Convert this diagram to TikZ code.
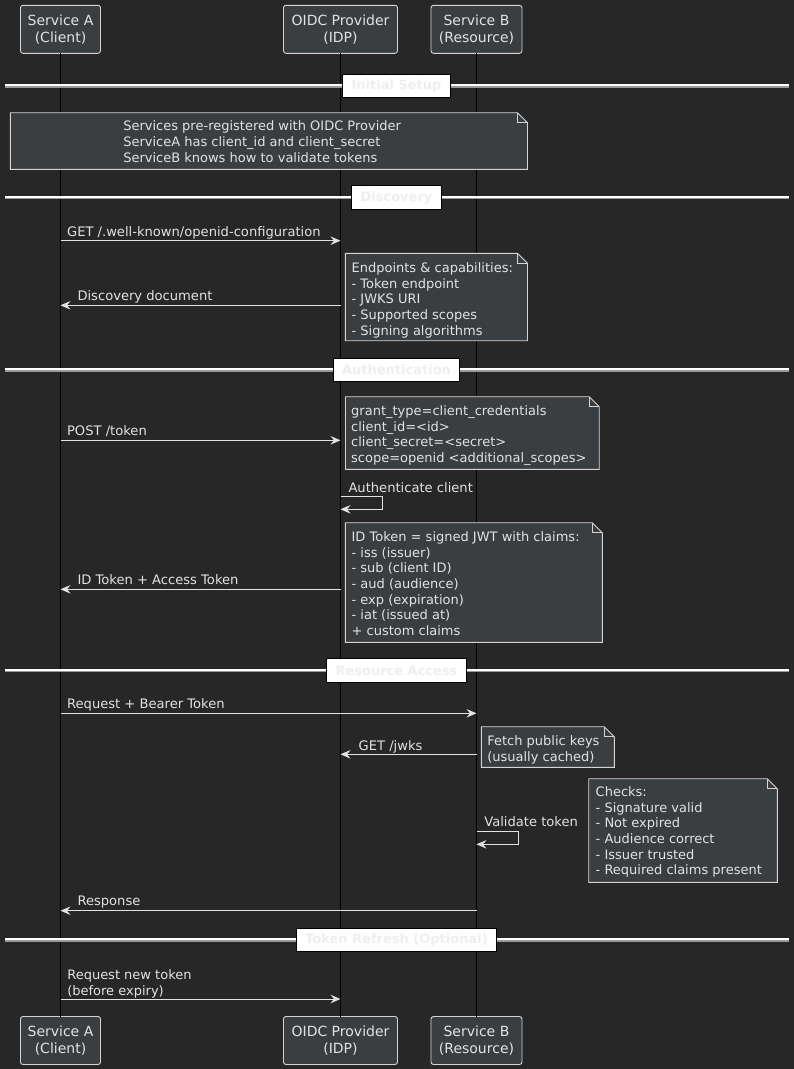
\documentclass[tikz,border=0pt]{standalone}
\usepackage{fontspec}
\setmainfont{DejaVu Sans}
\usetikzlibrary{arrows.meta}

\definecolor{bg}{HTML}{272727}
\definecolor{boxfill}{HTML}{3B3E41}
\definecolor{ink}{HTML}{E2E2E2}
\definecolor{edge}{HTML}{D4D4D4}
\definecolor{dividertext}{HTML}{EEEEEE}
\definecolor{divshade}{HTML}{9A9A9A}

\tikzset{
  every node/.style={inner sep=0pt, outer sep=0pt},
  actor/.style={draw=edge, fill=boxfill, rounded corners=2.5pt, minimum height=48pt,
    text=ink, align=center, font=\fontsize{14}{17}\selectfont, line width=0.9pt},
  lifeline/.style={draw=black, line width=1pt},
  msg/.style={draw=ink, line width=1pt, -{Stealth[length=10pt,width=8.5pt,inset=3.5pt]}},
  lbl/.style={anchor=base west, text=ink, font=\fontsize{13.1}{15.7}\selectfont},
  notebody/.style={draw=edge, fill=boxfill, line width=0.9pt, line join=miter},
  notetext/.style={anchor=north west, align=left, text=ink, font=\fontsize{13}{15.7}\selectfont},
  divline/.style={draw=white, line width=2.2pt},
  divunder/.style={draw=divshade, line width=1.2pt},
  divbox/.style={draw=black, fill=white, line width=1pt, minimum height=23.5pt, inner xsep=9pt,
    text=dividertext, font=\fontsize{13}{15}\selectfont\bfseries},
}

% note outline with a folded top-right corner: x1, y1, x2, y2
\newcommand\foldnote[4]{%
  \draw[notebody] (#1,#2) -- ({#3-10},#2) -- (#3,{#2+10}) -- (#3,#4) -- (#1,#4) -- cycle;
  \draw[notebody, fill=none] ({#3-10},#2) -- ({#3-10},{#2+10}) -- (#3,{#2+10});
}
% section separator across the page: y, name, caption
\newcommand\separator[3]{%
  \draw[divline] (5,{#1-0.8}) -- (789,{#1-0.8});
  \draw[divunder] (5,{#1+0.9}) -- (789,{#1+0.9});
  \node[divbox] (#2) at (396.5,#1) {#3};
}

\begin{document}
\begin{tikzpicture}[x=1pt, y=-1pt]
  \fill[bg] (0,0) rectangle (794,1069);
  \useasboundingbox (0,0) rectangle (794,1069);

  % participants, top and bottom
  \node[actor, minimum width=80pt]  (A)  at (60.5,29.3)  {Service A\\(Client)};
  \node[actor, minimum width=114pt] (P)  at (340.5,29.3) {OIDC Provider\\(IDP)};
  \node[actor, minimum width=91pt]  (B)  at (476.5,29.3) {Service B\\(Resource)};
  \node[actor, minimum width=80pt]  (A2) at (60.5,1040.5)  {Service A\\(Client)};
  \node[actor, minimum width=114pt] (P2) at (340.5,1040.5) {OIDC Provider\\(IDP)};
  \node[actor, minimum width=91pt]  (B2) at (476.5,1040.5) {Service B\\(Resource)};

  % lifelines
  \draw[lifeline] (A.south) -- (A2.north);
  \draw[lifeline] (P.south) -- (P2.north);
  \draw[lifeline] (B.south) -- (B2.north);

  % Initial Setup
  \separator{86}{secSetup}{Initial Setup}
  \foldnote{10.3}{112.7}{527.5}{169.3}
  \node[notetext] (noteSetup) at (123.3,119.7)
    {\strut Services pre-registered with OIDC Provider\\ServiceA has client\_id and client\_secret\\ServiceB knows how to validate tokens};

  % Discovery
  \separator{197.5}{secDiscovery}{Discovery}
  \draw[msg] (A |- 0,240.7) -- (P |- 0,240.7);
  \node[lbl] (mGet) at (67.1,236.7) {GET /.well-known/openid-configuration};
  \foldnote{345.4}{253.3}{527.5}{340.7}
  \node[notetext] (noteDisc) at (351.6,261.4)
    {\strut Endpoints \& capabilities:\\- Token endpoint\\- JWKS URI\\- Supported scopes\\- Signing algorithms};
  \draw[msg] (P |- 0,305.3) -- (A |- 0,305.3);
  \node[lbl] (mDisc) at (77.5,300.7) {Discovery document};

  % Authentication
  \separator{370}{secAuth}{Authentication}
  \foldnote{345.5}{396.7}{599.2}{469.3}
  \node[notetext] (noteToken) at (351.2,404.4)
    {\strut grant\_type=client\_credentials\\client\_id=<id>\\client\_secret=<secret>\\scope=openid <additional\_scopes>};
  \draw[msg] (A |- 0,440.3) -- (P |- 0,440.3);
  \node[lbl] (mPost) at (67.1,435.7) {POST /token};
  \node[lbl] (mAuth) at (348.5,492.4) {Authenticate client};
  \draw[msg] (P |- 0,496.7) -- (382.3,496.7) -- (382.3,509.3) -- (P |- 0,509.3);
  \foldnote{345.3}{522.7}{602.3}{642.3}
  \node[notetext] (noteJwt) at (351.6,530.4)
    {\strut ID Token = signed JWT with claims:\\- iss (issuer)\\- sub (client ID)\\- aud (audience)\\- exp (expiration)\\- iat (issued at)\\+ custom claims};
  \draw[msg] (P |- 0,589.3) -- (A |- 0,589.3);
  \node[lbl] (mIdTok) at (77.5,584.7) {ID Token + Access Token};

  % Resource Access
  \separator{670.5}{secRes}{Resource Access}
  \draw[msg] (A |- 0,713.3) -- (B |- 0,713.3);
  \node[lbl] (mReq) at (67.1,708.7) {Request + Bearer Token};
  \draw[msg] (B |- 0,754.3) -- (P |- 0,754.3);
  \node[lbl] (mJwks) at (358.7,750.4) {GET /jwks};
  \foldnote{481.3}{726.7}{614.3}{767.3}
  \node[notetext] (noteKeys) at (487.3,734.4)
    {\strut Fetch public keys\\(usually cached)};
  \foldnote{588.7}{778.7}{777.3}{882.3}
  \node[notetext] (noteChecks) at (595.7,785.4)
    {\strut Checks:\\- Signature valid\\- Not expired\\- Audience correct\\- Issuer trusted\\- Required claims present};
  \node[lbl] (mVal) at (484.3,826.4) {Validate token};
  \draw[msg] (B |- 0,831.7) -- (518.3,831.7) -- (518.3,844.3) -- (B |- 0,844.3);
  \draw[msg] (B |- 0,910.7) -- (A |- 0,910.7);
  \node[lbl] (mResp) at (77.5,905.4) {Response};

  % Token Refresh (Optional)
  \separator{940}{secRefresh}{Token Refresh (Optional)}
  \node[notetext] (mRenew) at (67.3,968.7) {\strut Request new token\\(before expiry)};
  \draw[msg] (A |- 0,999) -- (P |- 0,999);
\end{tikzpicture}
\end{document}
